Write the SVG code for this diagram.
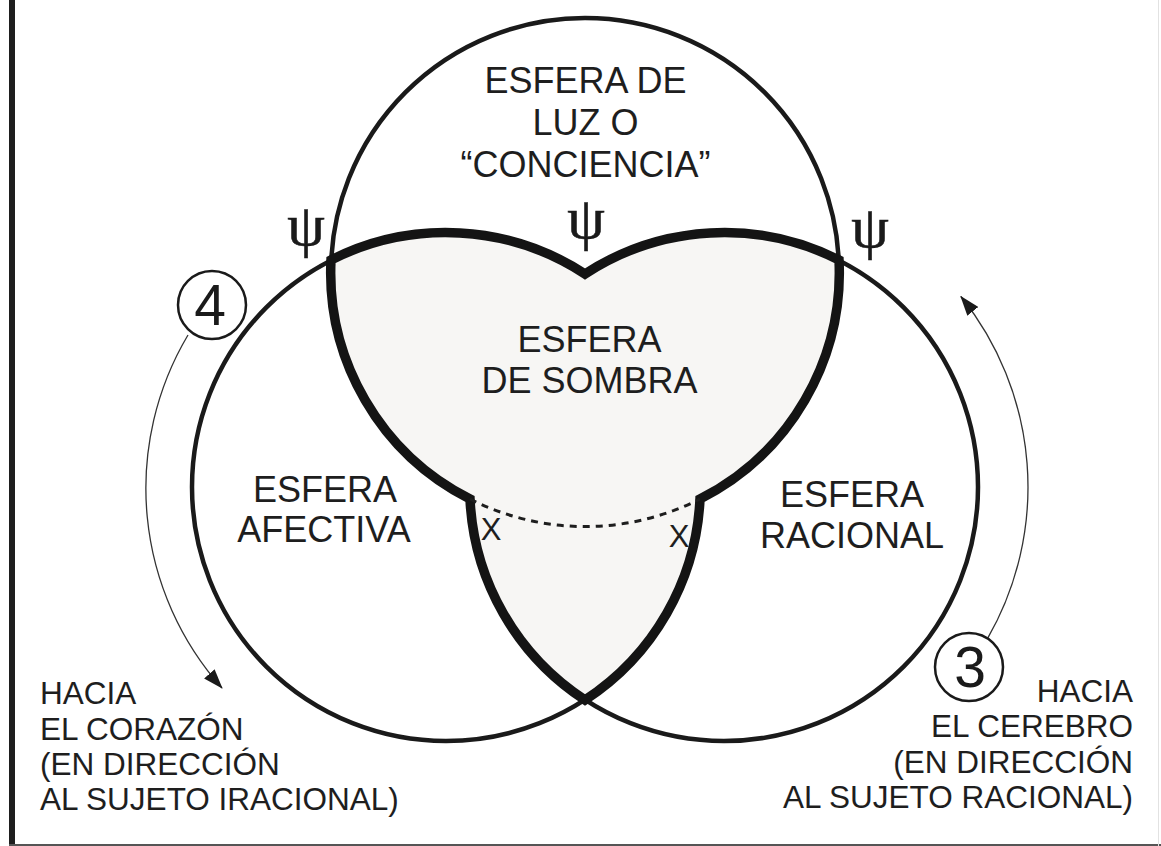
<svg xmlns="http://www.w3.org/2000/svg" width="1161" height="846" viewBox="0 0 1161 846">
<style>
.circ{fill:none;stroke:#1a1a1a;stroke-width:4.5}
.lbl{font-family:"Liberation Sans",Arial,sans-serif;font-size:36px;fill:#1e1e1e;text-anchor:middle}
.side{font-family:"Liberation Sans",Arial,sans-serif;font-size:31.5px;fill:#1e1e1e}
.psi{font-family:"Liberation Serif","DejaVu Serif",serif;font-size:60px;fill:#1a1a1a;text-anchor:middle;stroke:#1a1a1a;stroke-width:0.6}
.num{font-family:"Liberation Sans",Arial,sans-serif;font-size:57px;fill:#1a1a1a;text-anchor:middle}
.badge{fill:#fff;stroke:#1a1a1a;stroke-width:2.5}
.xmark{font-family:"Liberation Sans",Arial,sans-serif;font-size:31px;fill:#1e1e1e;text-anchor:middle}
.arc{fill:none;stroke:#333;stroke-width:1.3}
</style>
<defs>
<marker id="ah" markerUnits="userSpaceOnUse" markerWidth="20" markerHeight="14" refX="19" refY="7" orient="auto">
<path d="M0,0 L20,7 L0,14 Z" fill="#1a1a1a"/>
</marker>
</defs>
<rect x="0" y="0" width="1161" height="846" fill="#fff"/>
<g id="frame">
<rect x="9" y="0" width="6" height="846" fill="#1e1e1e"/>
<line x1="9" y1="845" x2="1161" y2="845" stroke="#555" stroke-width="2"/>
<line x1="1158.5" y1="0" x2="1158.5" y2="846" stroke="#e2e2e2" stroke-width="1"/>
</g>
<g id="esfera-luz">
<circle class="circ" cx="585" cy="272" r="254"/>
<text class="lbl" x="585.5" y="93">ESFERA DE</text>
<text class="lbl" x="585.5" y="135">LUZ O</text>
<text class="lbl" x="585.5" y="177">“CONCIENCIA”</text>
</g>
<g id="esfera-afectiva">
<circle class="circ" cx="446" cy="487" r="254"/>
<text class="lbl" x="325" y="502">ESFERA</text>
<text class="lbl" x="324" y="542">AFECTIVA</text>
</g>
<g id="esfera-racional">
<circle class="circ" cx="724" cy="487" r="254"/>
<text class="lbl" x="852" y="507">ESFERA</text>
<text class="lbl" x="852" y="548">RACIONAL</text>
</g>
<g id="esfera-sombra">
<path d="M331,260 A254,254 0 0 1 585,274 A254,254 0 0 1 839,260 A254,254 0 0 1 700,499 A254,254 0 0 1 585,700 A254,254 0 0 1 470,499 A254,254 0 0 1 331,260 Z" fill="#f7f6f4" stroke="#141414" stroke-width="9.5"/>
<path d="M470,499 A254,254 0 0 0 700,499" fill="none" stroke="#1e1e1e" stroke-width="3" stroke-dasharray="7 6"/>
<text class="lbl" x="589.5" y="352">ESFERA</text>
<text class="lbl" x="589.5" y="393">DE SOMBRA</text>
<text class="xmark" x="491" y="540">X</text>
<text class="xmark" x="679" y="547">X</text>
</g>
<g id="psi-marks">
<text class="psi" x="306" y="245">ψ</text>
<text class="psi" x="586" y="238">ψ</text>
<text class="psi" x="870" y="247">ψ</text>
</g>
<g id="connectors">
<path class="arc" d="M188,335 A300,300 0 0 0 222,688" marker-end="url(#ah)"/>
<path class="arc" d="M987.6,638.4 A304,304 0 0 0 960.9,296.5" marker-end="url(#ah)"/>
</g>
<g id="badge-4">
<circle class="badge" cx="212" cy="305" r="34"/>
<text class="num" x="210" y="325">4</text>
</g>
<g id="badge-3">
<circle class="badge" cx="969" cy="667" r="34"/>
<text class="num" x="970" y="687">3</text>
</g>
<g id="texto-corazon">
<text class="side" x="40" y="704">HACIA</text>
<text class="side" x="40" y="740">EL CORAZÓN</text>
<text class="side" x="40" y="775">(EN DIRECCIÓN</text>
<text class="side" x="40" y="810">AL SUJETO IRACIONAL)</text>
</g>
<g id="texto-cerebro">
<text class="side" x="1133" y="702" text-anchor="end">HACIA</text>
<text class="side" x="1133" y="737" text-anchor="end">EL CEREBRO</text>
<text class="side" x="1133" y="773" text-anchor="end">(EN DIRECCIÓN</text>
<text class="side" x="1133" y="808" text-anchor="end">AL SUJETO RACIONAL)</text>
</g>
</svg>
